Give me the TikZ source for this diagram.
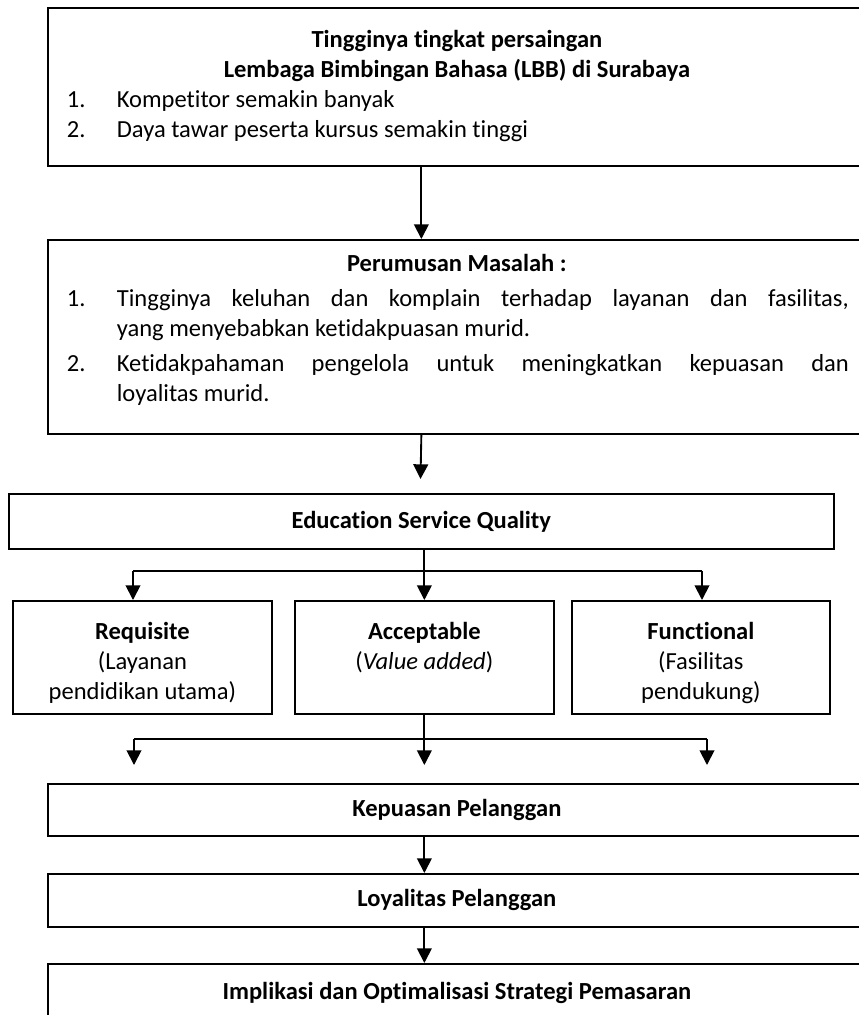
\documentclass[tikz,border=0pt]{standalone}
\usepackage{fontspec}
\setmainfont{Carlito}[Ligatures={NoCommon}]
\usetikzlibrary{arrows.meta}
\newlength{\px}
\setlength{\px}{0.75pt}
\newcommand{\isi}[4][t]{\parbox[c][#3\px][#1]{#2\px}{#4}}

\begin{document}
\begin{tikzpicture}[
        x = 0.75pt, y = -0.75pt,
        kotak/.style = {draw, line width = 1.3pt, inner sep = 0mm, anchor = north west,
                        font = \fontsize{18.4}{22.5}\selectfont},
        arr/.style = {draw, line width = 1.4pt, -{Triangle[length = 11pt, width = 11pt]}},
        garis/.style = {draw, line width = 1.4pt},
    ]
    \useasboundingbox (0,0) rectangle (859,1015);

    \node (saing) [kotak] at (47,7) {\isi{818}{158}{%
        \vspace*{22\px}
        {\centering\bfseries Tingginya tingkat persaingan\\
        Lembaga Bimbingan Bahasa (LBB) di Surabaya\par}
        \hspace*{19\px}\makebox[50\px][l]{1.}Kompetitor semakin banyak\\
        \hspace*{19\px}\makebox[50\px][l]{2.}Daya tawar peserta kursus semakin tinggi}};

    \node (masalah) [kotak] at (47,239) {\isi{818}{194}{%
        \vspace*{14\px}
        {\centering\bfseries Perumusan Masalah :\par}
        \parskip=5\px
        \leftskip=19\px \rightskip=17\px
        \hangindent=50\px \hangafter=1
        \makebox[50\px][l]{1.}Tingginya keluhan dan komplain terhadap layanan dan fasilitas,\linebreak
        yang menyebabkan ketidakpuasan murid.\par
        \hangindent=50\px \hangafter=1
        \makebox[50\px][l]{2.}Ketidakpahaman pengelola untuk meningkatkan kepuasan dan\linebreak
        loyalitas murid.}};

    \node (esq) [kotak] at (8,493) {\isi[c]{825}{55}{\centering\bfseries Education Service Quality}};

    \node (req) [kotak] at (12,600) {\isi{259}{113}{\vspace*{21\px}\centering
        \textbf{Requisite}\\(Layanan\\pendidikan utama)}};
    \node (acc) [kotak] at (294,600) {\isi{259}{113}{\vspace*{21\px}\centering
        \textbf{Acceptable}\\(\textit{Value added})}};
    \node (fun) [kotak] at (571,600) {\isi{258}{113}{\vspace*{21\px}\centering
        \textbf{Functional}\\(Fasilitas\\pendukung)}};

    \node (puas) [kotak] at (47,783) {\isi[c]{818}{52}{\centering\bfseries Kepuasan Pelanggan}};
    \node (loyal) [kotak] at (47,873) {\isi[c]{818}{53}{\centering\bfseries Loyalitas Pelanggan}};
    \node (impl) [kotak] at (47,963) {\isi[c]{818}{58}{\centering\bfseries Implikasi dan Optimalisasi Strategi Pemasaran}};

    \coordinate (t1) at (420.5,479);
    \coordinate (c1) at (133,571);
    \coordinate (c2) at (702,571);
    \coordinate (d1) at (134,739);
    \coordinate (d2) at (707,739);
    \coordinate (u1) at (134,765);
    \coordinate (u2) at (707,765);

    \draw[arr] (saing.south -| esq.south) -- (masalah.north -| esq.south);
    \draw[arr] (masalah.south -| esq.south) -- (t1);

    \draw[garis] (c1) -- (c2);
    \draw[arr] (acc.north |- esq.south) -- (acc.north);
    \draw[arr] (c1) -- (c1 |- req.north);
    \draw[arr] (c2) -- (c2 |- fun.north);

    \draw[garis] (d1) -- (d2);
    \draw[arr] (acc.south) -- (acc.south |- u1);
    \draw[arr] (d1) -- (u1);
    \draw[arr] (d2) -- (u2);

    \draw[arr] (puas.south -| acc.south) -- (loyal.north -| acc.south);
    \draw[arr] (loyal.south -| acc.south) -- (impl.north -| acc.south);
\end{tikzpicture}
\end{document}
